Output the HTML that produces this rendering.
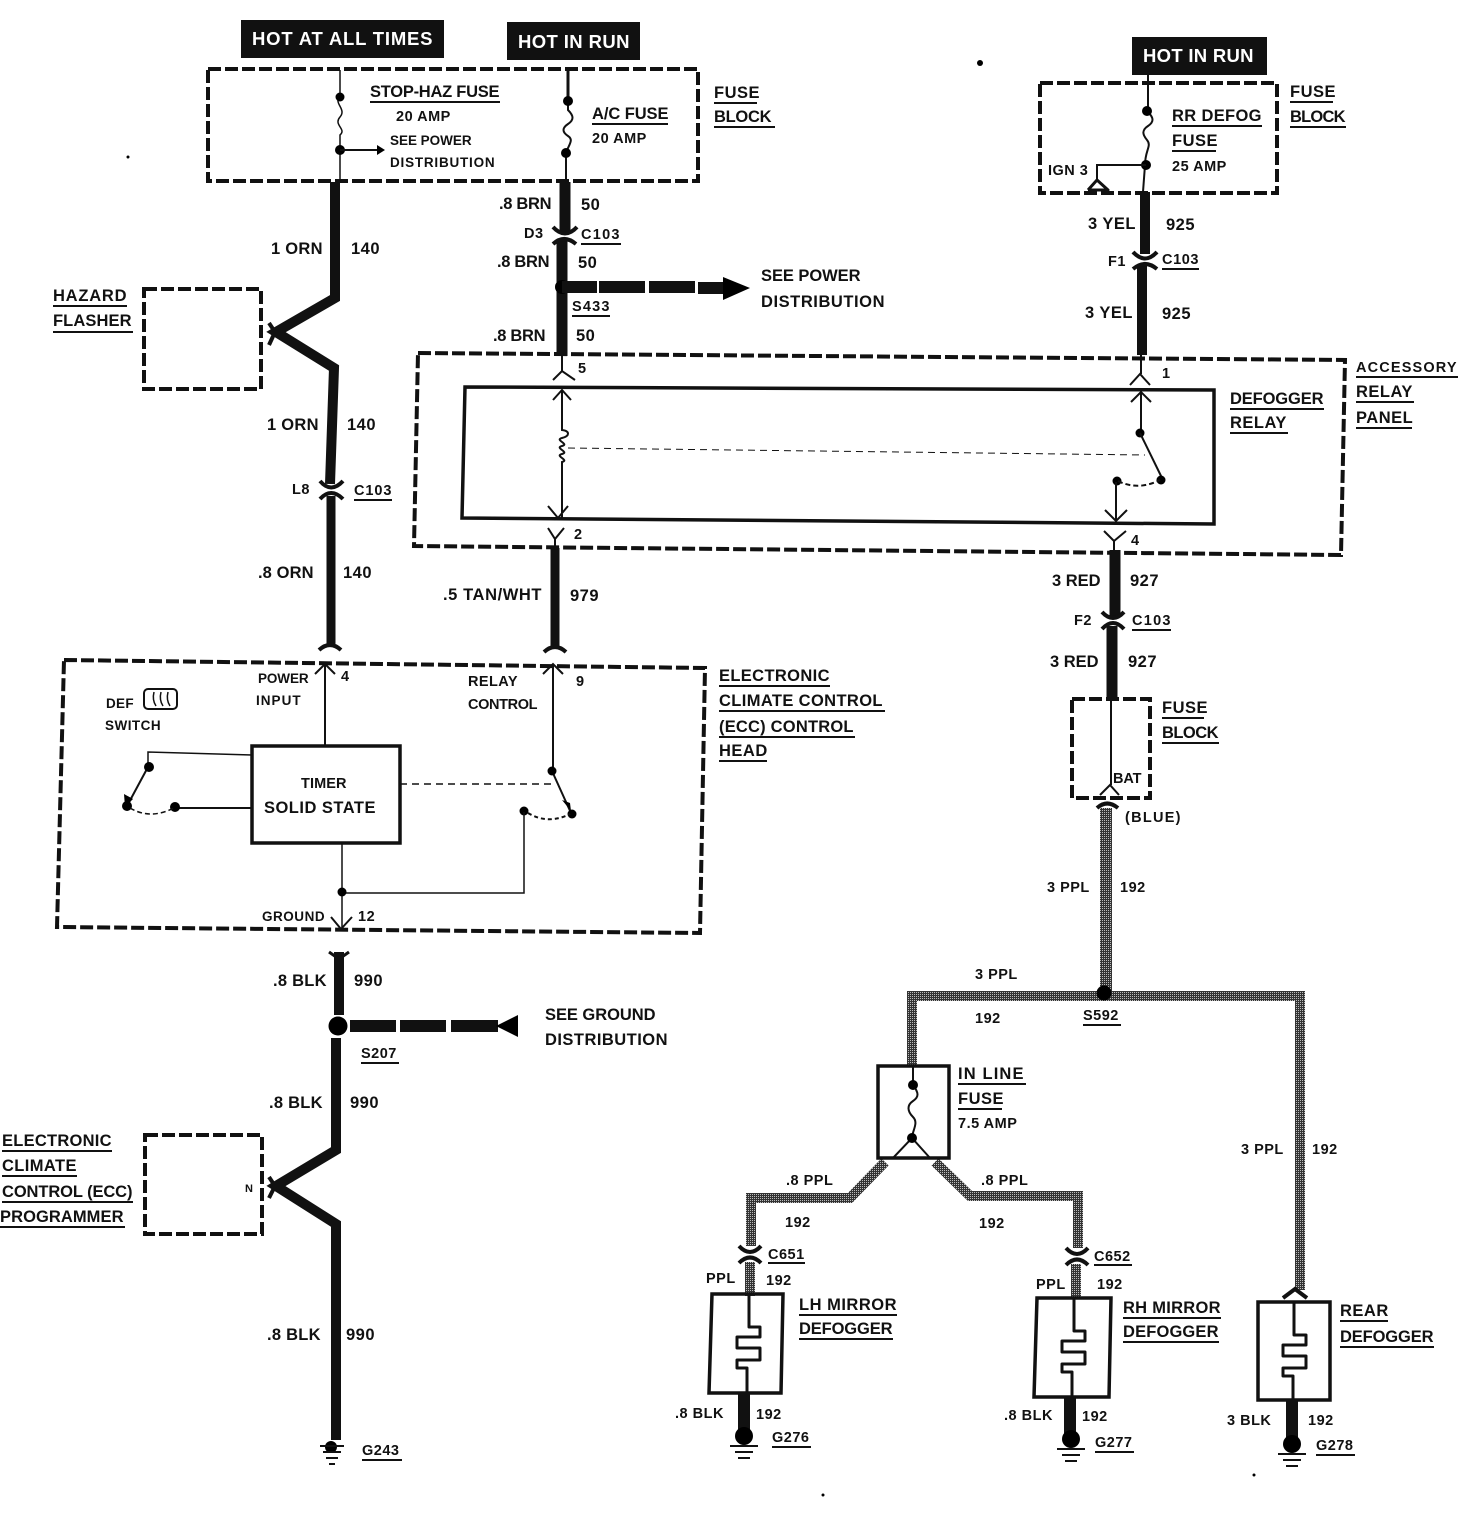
<!DOCTYPE html>
<html><head><meta charset="utf-8"><style>
html,body{margin:0;padding:0;background:#fff}
svg{display:block}
text{font-family:"Liberation Sans",sans-serif;font-weight:bold;fill:#111;font-size:16.5px;letter-spacing:.5px}
.s{font-size:14.5px;letter-spacing:.5px}
.n{font-size:13.5px;letter-spacing:.4px}
.w{fill:#fff;font-size:18.5px}
.d{fill:none;stroke:#111;stroke-width:4;stroke-dasharray:13 4}
.t{fill:none;stroke:#111;stroke-width:1.5}
.m{fill:none;stroke:#111;stroke-width:3;stroke-linejoin:round}
.k{fill:none;stroke:#111;stroke-linejoin:miter}
.g{fill:none;stroke:url(#dith);stroke-linejoin:miter}
.u{stroke:#111;stroke-width:2}
.a{fill:none;stroke:#111;stroke-width:2}
.c{fill:none;stroke:#111;stroke-width:4}
</style></head><body>
<svg width="1458" height="1520" viewBox="0 0 1458 1520" xmlns="http://www.w3.org/2000/svg">
<defs><pattern id="dith" patternUnits="userSpaceOnUse" width="2" height="2"><rect width="2" height="2" fill="#333"/><rect width="1" height="1" fill="#bbb"/></pattern></defs>
<!-- Banners -->
<rect x="241" y="20" width="203" height="38" fill="#111"/><text x="252" y="45" class="w" textLength="181">HOT AT ALL TIMES</text>
<rect x="507" y="22" width="133" height="38" fill="#111"/><text x="518" y="48" class="w" textLength="112">HOT IN RUN</text>
<rect x="1132" y="37" width="135" height="38" fill="#111"/><text x="1143" y="62" class="w" textLength="111">HOT IN RUN</text>
<!-- Dashed boxes -->
<rect class="d" x="208" y="69" width="490" height="112"/>
<rect class="d" x="1040" y="83" width="237" height="110"/>
<rect class="d" x="144" y="289" width="117" height="100"/>
<path class="d" d="M418 353L1345 360L1341 555L414 546Z"/>
<path class="d" d="M64 660L705 668L700 933L57 927Z"/>
<rect class="d" x="1072" y="699" width="78" height="99"/>
<rect class="d" x="145" y="1135" width="117" height="99"/>
<!-- Fuses -->
<path class="t" d="M340 70V97M340 97c-7 6 7 12 0 20s7 12 0 18V182"/><circle cx="340" cy="97" r="4.5"/><circle cx="340" cy="150" r="5"/>
<path class="a" d="M340 150H378"/><path d="M377 145l8 5-8 5z"/>
<path class="m" d="M568 70V100"/><path class="a" d="M568 100V110c6 6 6 10 0 14s-6 8 0 12 1 8-2 17V182"/><circle cx="568" cy="101" r="5"/><circle cx="566" cy="153" r="5"/>
<path class="a" d="M1148 75V112c6 6 6 10 0 14s-6 8 -1 14-2 10-2 25L1143 192"/><circle cx="1147" cy="111" r="5"/><circle cx="1146" cy="165" r="5"/>
<path class="a" d="M1146 165H1097V180"/><path class="m" d="M1088 190L1097 180L1108 190H1088"/>
<!-- Left wire -->
<path class="k" stroke-width="10" d="M335 182V298L276 332L334 368L330 484"/>
<path class="c" d="M269 323L275 332L269 345"/>
<path class="c" d="M320 481Q331 494 343 481M320 499Q331 487 343 499"/>
<path class="k" stroke-width="9" d="M331 496V645"/>
<path class="c" d="M319 650Q330 640 341 650"/>
<!-- Middle wires -->
<path class="k" stroke-width="11" d="M565 182V233M562 240V356"/>
<path class="c" d="M553 227Q565 240 577 227M553 244Q564 234 576 244"/>
<circle cx="562" cy="287" r="7"/>
<g fill="#111"><rect x="562" y="281" width="35" height="12"/><rect x="599" y="281" width="46" height="12"/><rect x="649" y="281" width="46" height="12"/><rect x="698" y="282" width="26" height="12"/></g>
<path d="M723 277L750 288L723 300z"/>
<path class="a" d="M562 355V371M553 380L562 371L575 380"/>
<path class="k" stroke-width="10" d="M1145 192V254M1142 266V355"/>
<path class="c" d="M1133 252Q1145 265 1157 252M1133 269Q1145 259 1157 269"/>
<path class="a" d="M1141 355V374M1130 385L1140 374L1150 385"/>
<!-- Defogger relay -->
<path d="M465 387L1214 390V524L462 518Z" fill="none" stroke="#111" stroke-width="3.5"/>
<path class="a" d="M562 390V430c8 1 8 6 0 8s8 6 0 8 8 6 0 8 8 6 0 8V518M553 400l9-10 9 10M548 506l10 12 10-12"/>
<path class="a" stroke-dasharray="7 5" style="stroke-width:1" d="M568 448L1145 455"/>
<path class="a" d="M1141 392V432M1131 402l10-10 10 10"/><circle cx="1140" cy="433" r="4.5"/>
<path class="a" d="M1140 433L1162 478"/><circle cx="1161" cy="480" r="4.5"/><circle cx="1117" cy="481" r="4.5"/>
<path class="a" stroke-dasharray="5 3" d="M1118 481q20 10 42 -1"/><path class="a" d="M1116 482V521M1105 510l11 11 11-11"/>
<path class="a" d="M548 528l7 11 9-11M555 539V548M1104 531l10 10 12-10M1114 541V552"/>
<!-- lower wires -->
<path class="k" stroke-width="9" d="M555 548V648"/><path class="c" d="M544 652Q555 642 566 652"/>
<path class="k" stroke-width="11" d="M1115 550V616M1112 626V700"/>
<path class="c" d="M1102 612Q1113 624 1124 612M1102 629Q1113 617 1124 629"/>
<path class="a" d="M1111 699V785M1100 795l10-10 9 10"/>
<path class="c" d="M1097 808Q1107 799 1118 808"/>
<!-- ECC Head -->
<path class="a" d="M325 664V745M315 674l10-10 10 10"/>
<path class="a" d="M553 664V770M543 674l10-10 10 10"/>
<rect x="252" y="746" width="148" height="97" fill="#fff" stroke="#111" stroke-width="3.5"/>
<path class="t" d="M252 755L148 752V766" stroke-width="2"/><path class="a" d="M148 767L127 806M252 808H175"/><circle cx="149" cy="767" r="5"/><circle cx="127" cy="806" r="5"/><circle cx="175" cy="807" r="5"/>
<path d="M124 794l9 5-8 8z"/><path class="t" stroke-dasharray="5 3" d="M130 808q20 12 44 0"/>
<rect x="144" y="689" width="33" height="20" rx="4" fill="none" stroke="#111" stroke-width="2"/><path class="t" d="M154 692q-2 8 2 14M161 692q-2 8 2 14M168 692q-2 8 2 14"/>
<path class="t" stroke-dasharray="7 5" d="M400 784H552"/>
<path class="a" d="M552 771L571 813"/><circle cx="552" cy="771" r="4.5"/><circle cx="572" cy="814" r="4.5"/><circle cx="524" cy="811" r="4.5"/>
<path d="M562 800l8 3 1 8z"/><path class="a" stroke-dasharray="4 3" d="M528 813q20 12 42 1"/>
<path class="t" d="M524 812V893H342"/><path class="t" d="M342 843V928"/><circle cx="342" cy="892" r="4.5"/><path class="a" d="M331 917l10 12 11-12"/>
<!-- lower left -->
<path class="k" stroke-width="10" d="M339 952V1015"/><path class="m" d="M329 952l10 7 10-7"/>
<circle cx="338" cy="1026" r="9.5"/>
<g fill="#111"><rect x="350" y="1020" width="46" height="12"/><rect x="400" y="1020" width="46" height="12"/><rect x="451" y="1020" width="47" height="12"/></g><path d="M518 1015V1037L496 1026Z"/>
<path class="k" stroke-width="10" d="M336 1038V1150L276 1186L336 1224V1440"/><path class="c" d="M269 1177L275 1186L269 1198"/>
<circle cx="331" cy="1447" r="6"/>
<path class="a" d="M320 1446H344M323 1452H341M326 1458H338M329 1464H335"/>
<!-- Grey wires -->
<path class="g" stroke-width="12" d="M1106 808V993"/><path class="g" stroke-width="10" d="M912 1066V996H1300V1290"/><circle cx="1104" cy="993" r="7.5"/>
<path class="g" stroke-width="10" d="M885 1162L850 1198H751V1246M935 1162L970 1196H1078V1248"/>
<path class="c" d="M739 1246Q750 1258 761 1246M739 1263Q750 1252 761 1263M1066 1248Q1077 1260 1088 1248M1066 1265Q1077 1254 1088 1265"/>
<path class="g" stroke-width="10" d="M750 1262V1296M1076 1264V1298"/>
<path class="c" d="M1283 1298L1295 1289L1307 1298"/>
<!-- Inline fuse -->
<rect x="878" y="1066" width="71" height="92" fill="#fff" stroke="#111" stroke-width="3.5"/>
<path class="a" d="M913 1066V1085c6 8 6 12 0 16s-6 10 0 16-1 14-1 21M893 1158L912 1138L930 1158"/><circle cx="913" cy="1085" r="5"/><circle cx="912" cy="1138" r="5"/>
<!-- Defoggers -->
<path class="k" stroke-width="3.5" d="M712 1294H783L781 1393H709Z"/>
<path class="m" d="M749 1294V1327H760V1337H737V1348H760V1360H737V1368H747V1393"/>
<path class="k" stroke-width="3.5" d="M1037 1298H1111L1109 1397H1034Z"/>
<path class="m" d="M1074 1298V1331H1085V1341H1062V1352H1085V1364H1062V1372H1072V1397"/>
<rect x="1258" y="1302" width="72" height="98" fill="none" stroke="#111" stroke-width="3.5"/>
<path class="m" d="M1294 1302V1335H1306V1345H1283V1356H1306V1368H1283V1376H1293V1400"/>
<!-- ground -->
<path class="k" stroke-width="12" d="M744 1393V1430M1070 1397V1434M1292 1400V1438"/>
<circle cx="744" cy="1436" r="9"/><circle cx="1071" cy="1439" r="9"/><circle cx="1292" cy="1444" r="9"/>
<path class="a" d="M730 1446H758M735 1452H753M738 1458H750M1057 1449H1085M1062 1455H1080M1065 1461H1077M1278 1454H1306M1283 1460H1301M1286 1466H1298"/>
<!-- Labels -->
<text x="370" y="97" textLength="130">STOP-HAZ FUSE</text><path class="u" d="M370 102H500"/>
<text x="396" y="121" class="s">20 AMP</text><text x="390" y="145" class="n" textLength="82">SEE POWER</text><text x="390" y="167" class="n" textLength="105">DISTRIBUTION</text>
<text x="592" y="119" textLength="77">A/C FUSE</text><path class="u" d="M592 124H668"/><text x="592" y="143" class="s">20 AMP</text>
<text x="714" y="98">FUSE</text><text x="714" y="122" textLength="58">BLOCK</text><path class="u" d="M714 103H757M714 127H775"/>
<text x="1290" y="97">FUSE</text><text x="1290" y="122" textLength="56">BLOCK</text><path class="u" d="M1290 102H1333M1290 127H1346"/>
<text x="1172" y="121" textLength="90">RR DEFOG</text><text x="1172" y="146">FUSE</text><path class="u" d="M1172 126H1262M1172 151H1216"/><text x="1172" y="171" class="s">25 AMP</text>
<text x="1048" y="175" class="s">IGN 3</text>
<text x="271" y="254" textLength="52">1 ORN</text><text x="351" y="254">140</text>
<text x="267" y="430" textLength="52">1 ORN</text><text x="347" y="430">140</text>
<text x="292" y="494" class="s">L8</text><text x="354" y="495" class="s" textLength="38">C103</text><path class="u" d="M354 500H392"/>
<text x="258" y="578" textLength="56">.8 ORN</text><text x="343" y="578">140</text>
<text x="53" y="301" textLength="74">HAZARD</text><text x="53" y="326" textLength="79">FLASHER</text><path class="u" d="M53 306H127M53 332H133"/>
<text x="499" y="209" textLength="53">.8 BRN</text><text x="581" y="210">50</text>
<text x="524" y="238" class="s">D3</text><text x="581" y="239" class="s" textLength="39">C103</text><path class="u" d="M581 244H621"/>
<text x="497" y="267" textLength="53">.8 BRN</text><text x="578" y="268">50</text>
<text x="572" y="311" class="s" textLength="38">S433</text><path class="u" d="M572 316H610"/>
<text x="493" y="341" textLength="53">.8 BRN</text><text x="576" y="341">50</text>
<text x="761" y="281" textLength="100">SEE POWER</text><text x="761" y="307" textLength="124">DISTRIBUTION</text>
<text x="1088" y="229" textLength="48">3 YEL</text><text x="1166" y="230">925</text>
<text x="1108" y="266" class="s">F1</text><text x="1162" y="264" class="s" textLength="37">C103</text><path class="u" d="M1162 269H1199"/>
<text x="1085" y="318" textLength="48">3 YEL</text><text x="1162" y="319">925</text>
<text x="578" y="373" class="s">5</text><text x="1162" y="378" class="s">1</text><text x="574" y="539" class="s">2</text><text x="1131" y="545" class="s">4</text>
<text x="1356" y="372" class="s" textLength="101">ACCESSORY</text><text x="1356" y="397">RELAY</text><text x="1356" y="423">PANEL</text><path class="u" d="M1356 377H1458M1356 402H1414M1356 428H1412"/>
<text x="1230" y="404" textLength="94">DEFOGGER</text><text x="1230" y="428">RELAY</text><path class="u" d="M1230 409H1324M1230 433H1288"/>
<text x="443" y="600" textLength="99">.5 TAN/WHT</text><text x="570" y="601">979</text>
<text x="1052" y="586" textLength="49">3 RED</text><text x="1130" y="586">927</text>
<text x="1074" y="625" class="s">F2</text><text x="1132" y="625" class="s" textLength="39">C103</text><path class="u" d="M1132 630H1171"/>
<text x="1050" y="667" textLength="49">3 RED</text><text x="1128" y="667">927</text>
<text x="1162" y="713">FUSE</text><text x="1162" y="738" textLength="57">BLOCK</text><path class="u" d="M1162 718H1204M1162 743H1219"/>
<text x="1113" y="783" class="s" textLength="29">BAT</text><text x="1125" y="822" class="s" textLength="56">(BLUE)</text>
<text x="341" y="681" class="s">4</text><text x="576" y="686" class="s">9</text>
<text x="258" y="683" class="n" textLength="51">POWER</text><text x="256" y="705" class="n" textLength="45">INPUT</text>
<text x="468" y="686" class="s" textLength="50">RELAY</text><text x="468" y="709" class="s" textLength="70">CONTROL</text>
<text x="106" y="708" class="n" textLength="28">DEF</text><text x="105" y="730" class="n" textLength="56">SWITCH</text>
<text x="301" y="788" class="s" textLength="46">TIMER</text><text x="264" y="813" textLength="112">SOLID STATE</text>
<text x="262" y="921" class="n" textLength="63">GROUND</text><text x="358" y="921" class="s">12</text>
<text x="719" y="681" textLength="111">ELECTRONIC</text><text x="719" y="706" textLength="164">CLIMATE CONTROL</text><text x="719" y="732" textLength="135">(ECC) CONTROL</text><text x="719" y="756">HEAD</text>
<path class="u" d="M719 686H830M719 711H885M719 737H855M719 761H767"/>
<text x="1047" y="892" class="s">3 PPL</text><text x="1120" y="892" class="s">192</text>
<text x="975" y="979" class="s">3 PPL</text><text x="975" y="1023" class="s">192</text>
<text x="1083" y="1020" class="s">S592</text><path class="u" d="M1083 1025H1121"/>
<text x="273" y="986" textLength="54">.8 BLK</text><text x="354" y="986">990</text>
<text x="545" y="1020" textLength="111">SEE GROUND</text><text x="545" y="1045" textLength="123">DISTRIBUTION</text>
<text x="361" y="1058" class="s">S207</text><path class="u" d="M361 1063H399"/>
<text x="269" y="1108" textLength="54">.8 BLK</text><text x="350" y="1108">990</text>
<text x="2" y="1146" textLength="110">ELECTRONIC</text><text x="2" y="1171" textLength="75">CLIMATE</text><text x="2" y="1197" textLength="131">CONTROL (ECC)</text><text x="0" y="1222" textLength="124">PROGRAMMER</text>
<path class="u" d="M2 1151H112M2 1176H77M2 1202H133M0 1227H125"/>
<text x="245" y="1192" style="font-size:11px">N</text>
<text x="267" y="1340" textLength="54">.8 BLK</text><text x="346" y="1340">990</text>
<text x="362" y="1455" class="s">G243</text><path class="u" d="M362 1460H402"/>
<text x="958" y="1079" textLength="66">IN LINE</text><text x="958" y="1104">FUSE</text><path class="u" d="M958 1084H1026M958 1109H1002"/><text x="958" y="1128" class="s">7.5 AMP</text>
<text x="786" y="1185" class="s">.8 PPL</text><text x="785" y="1227" class="s">192</text>
<text x="981" y="1185" class="s">.8 PPL</text><text x="979" y="1228" class="s">192</text>
<text x="1241" y="1154" class="s">3 PPL</text><text x="1312" y="1154" class="s">192</text>
<text x="768" y="1259" class="s">C651</text><path class="u" d="M768 1263H805"/><text x="1094" y="1261" class="s">C652</text><path class="u" d="M1094 1265H1132"/>
<text x="706" y="1283" class="s">PPL</text><text x="766" y="1285" class="s">192</text>
<text x="1036" y="1289" class="s">PPL</text><text x="1097" y="1289" class="s">192</text>
<text x="799" y="1310" textLength="98">LH MIRROR</text><text x="799" y="1334" textLength="94">DEFOGGER</text><path class="u" d="M799 1315H897M799 1339H893"/>
<text x="1123" y="1313" textLength="98">RH MIRROR</text><text x="1123" y="1337" textLength="96">DEFOGGER</text><path class="u" d="M1123 1318H1221M1123 1342H1219"/>
<text x="1340" y="1316">REAR</text><text x="1340" y="1342" textLength="94">DEFOGGER</text><path class="u" d="M1340 1321H1388M1340 1347H1434"/>
<text x="675" y="1418" class="s">.8 BLK</text><text x="756" y="1419" class="s">192</text>
<text x="1004" y="1420" class="s">.8 BLK</text><text x="1082" y="1421" class="s">192</text>
<text x="1227" y="1425" class="s">3 BLK</text><text x="1308" y="1425" class="s">192</text>
<text x="772" y="1442" class="s">G276</text><path class="u" d="M772 1447H811"/>
<text x="1095" y="1447" class="s">G277</text><path class="u" d="M1095 1452H1134"/>
<text x="1316" y="1450" class="s">G278</text><path class="u" d="M1316 1455H1355"/>
<circle cx="980" cy="63" r="3"/><circle cx="128" cy="157" r="1.5"/><circle cx="1254" cy="1475" r="1.5"/><circle cx="823" cy="1495" r="1.5"/>
</svg>
</body></html>
